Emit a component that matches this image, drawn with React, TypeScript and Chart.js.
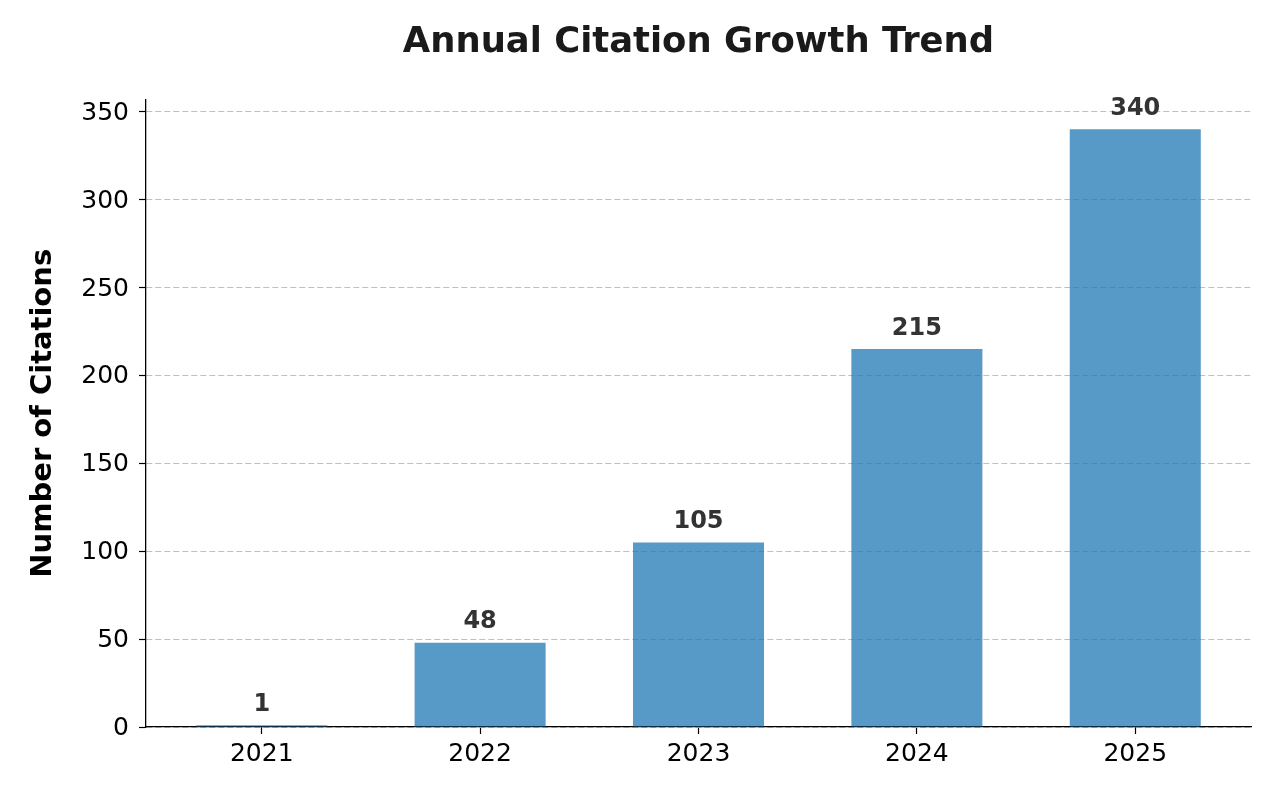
import React, { useEffect, useRef } from "react";
import { Chart, registerables } from "chart.js";

Chart.register(...registerables);

const years = [2021, 2022, 2023, 2024, 2025];
const citations = [1, 48, 105, 215, 340];
const titleText = "Annual Citation Growth Trend";
const yAxisTitle = "Number of Citations";
const yMax = 357;
const yStep = 50;

const FONT = "'DejaVu Sans', sans-serif";

const valueLabels = {
  id: "valueLabels",
  afterDatasetsDraw(chart: any) {
    const ctx = chart.ctx;
    const meta = chart.getDatasetMeta(0);
    ctx.save();
    ctx.font = `bold 24px ${FONT}`;
    ctx.fillStyle = "#333333";
    ctx.textAlign = "center";
    ctx.textBaseline = "alphabetic";
    meta.data.forEach((bar: any, i: number) => {
      ctx.fillText(String(citations[i]), bar.x, bar.y - 14.5);
    });
    ctx.restore();
  },
};

export default function App() {
  const ref = useRef<HTMLCanvasElement | null>(null);
  useEffect(() => {
    document.body.style.margin = "0";
    const chart = new Chart(ref.current as HTMLCanvasElement, {
      type: "bar",
      data: {
        datasets: [
          {
            data: years.map((y, i) => ({ x: y, y: citations[i] })),
            backgroundColor: "rgba(31,119,180,0.75)",
            borderWidth: 0,
            barPercentage: 0.6,
            categoryPercentage: 1,
          },
        ],
      },
      options: {
        animation: false,
        responsive: false,
        layout: { padding: { left: 0, right: 29, top: 0, bottom: 0 } },
        plugins: {
          legend: { display: false },
          tooltip: { enabled: false },
          title: {
            display: true,
            text: titleText,
            fullSize: false,
            color: "#1a1a1a",
            font: { family: FONT, size: 35.4, weight: "bold", lineHeight: 1.2 },
            padding: { top: 21.5, bottom: 35.5 },
          },
        },
        scales: {
          x: {
            type: "linear",
            offset: false,
            min: years[0] - 0.53,
            max: years[years.length - 1] + 0.53,
            afterBuildTicks: (scale: any) => {
              scale.ticks = years.map((v) => ({ value: v }));
            },
            afterFit: (scale: any) => {
              scale.height = 73;
            },
            ticks: {
              callback: (v: any) => String(v),
              color: "#000",
              font: { family: FONT, size: 25 },
              padding: 5,
              maxRotation: 0,
              autoSkip: false,
            },
            grid: {
              offset: false,
              drawOnChartArea: false,
              drawTicks: true,
              tickLength: 7,
              tickColor: "#000",
              tickWidth: 1.2,
            },
            border: { display: true, color: "#000", width: 1.3 },
          },
          y: {
            min: 0,
            max: yMax,
            afterFit: (scale: any) => {
              scale.width = 146;
            },
            ticks: {
              stepSize: yStep,
              includeBounds: false,
              color: "#000",
              font: { family: FONT, size: 25 },
              padding: 10,
              labelOffset: 1.5,
            },
            title: {
              display: true,
              text: yAxisTitle,
              color: "#000",
              font: { family: FONT, size: 29, weight: "bold", lineHeight: 1.2 },
              padding: { top: 26, bottom: 0 },
            },
            grid: {
              color: "#bfbfbf",
              lineWidth: 1,
              drawTicks: true,
              tickLength: 7,
              tickColor: "#000",
              tickWidth: 1.2,
              tickBorderDash: [],
            },
            border: { display: true, color: "#000", width: 1.3, dash: [6, 3] },
          },
        },
      },
      plugins: [valueLabels],
    } as any);
    return () => chart.destroy();
  }, []);
  return (
    <canvas
      ref={ref}
      width={1280}
      height={800}
      style={{ display: "block", width: 1280, height: 800 }}
    />
  );
}
